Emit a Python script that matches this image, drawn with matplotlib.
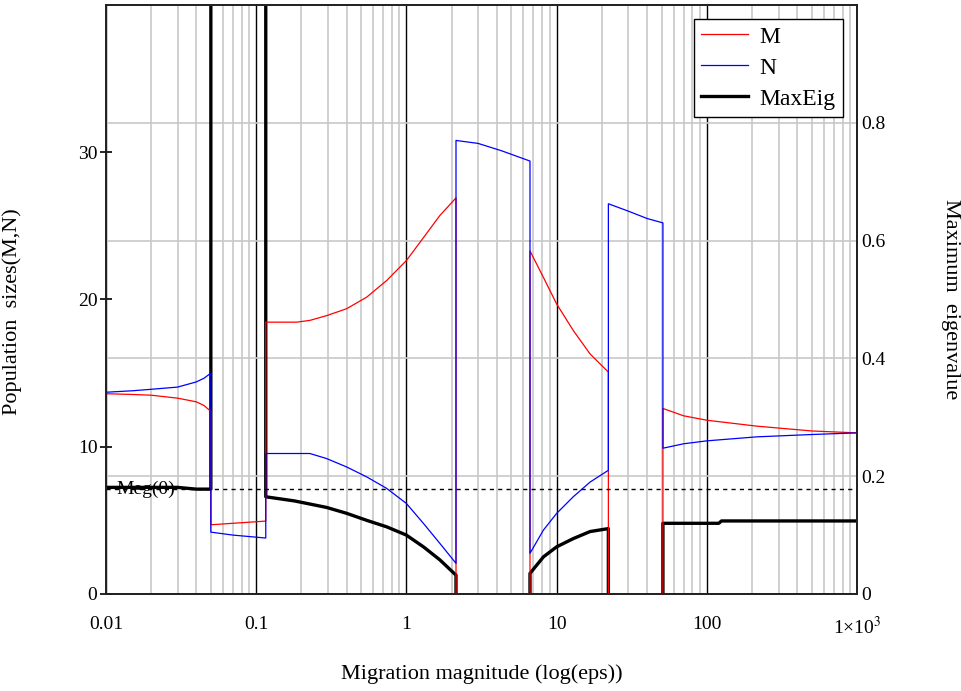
import numpy as np
import matplotlib
matplotlib.use("Agg")
import matplotlib.pyplot as plt
from matplotlib.ticker import LogLocator, NullFormatter, FixedLocator

plt.rcParams['font.family'] = ['Liberation Serif', 'DejaVu Serif']
plt.rcParams['mathtext.fontset'] = 'stix'

# values (NaN = curve not drawn, 1.5 = off the top)
eps_m = [0.01, 0.015, 0.02, 0.03, 0.04, 0.045, 0.05,
         0.05, 0.07, 0.116,
         0.116, 0.186, 0.228, 0.294, 0.40, 0.545, 0.74, 1.0, 1.30, 1.67, 2.14,
         2.14, 6.65,
         6.65, 8.17, 10, 12.9, 16.7, 22.1,
         22.1, 51,
         51, 70, 100, 214, 500, 1000]
M = [13.6, 13.55, 13.5, 13.3, 13.05, 12.8, 12.4,
     4.7, 4.8, 4.95,
     18.46, 18.46, 18.58, 18.9, 19.37, 20.16, 21.29, 22.64, 24.2, 25.7, 26.9,
     0, 0,
     23.3, 21.5, 19.7, 17.9, 16.3, 15.07,
     0, 0,
     12.6, 12.1, 11.8, 11.4, 11.07, 10.94]

eps_n = [0.01, 0.015, 0.02, 0.03, 0.04, 0.045, 0.05,
         0.05, 0.07, 0.116,
         0.116, 0.228, 0.294, 0.40, 0.545, 0.74, 1.0, 1.30, 1.67, 2.14,
         2.14, 3.0, 4.3, 6.65,
         6.65, 8.17, 10, 12.9, 16.7, 22.1,
         22.1, 30, 40, 51,
         51, 70, 100, 214, 500, 1000]
N = [13.7, 13.8, 13.9, 14.05, 14.4, 14.65, 15.0,
     4.2, 4.0, 3.8,
     9.54, 9.54, 9.2, 8.63, 7.95, 7.17, 6.15, 4.79, 3.44, 2.08,
     30.8, 30.6, 30.1, 29.4,
     2.76, 4.34, 5.47, 6.6, 7.6, 8.4,
     26.5, 26.0, 25.5, 25.2,
     9.9, 10.2, 10.4, 10.67, 10.83, 10.94]

eps_eig = [0.01, 0.03, 0.04, 0.05,
           0.05, 0.116,
           0.116, 0.18, 0.294, 0.40, 0.545, 0.74, 1.0, 1.30, 1.67, 2.14,
           2.14, 2.14, 6.65, 6.65,
           6.65, 8.17, 10, 12.9, 16.7, 22.1,
           22.1, 22.1, 51, 51,
           51, 120, 125, 1000]
max_eig = [0.181, 0.181, 0.178, 0.178,
           1.5, 1.5,
           0.165, 0.158, 0.147, 0.137, 0.125, 0.114, 0.100, 0.080, 0.058, 0.032,
           0, np.nan, np.nan, 0,
           0.035, 0.063, 0.080, 0.094, 0.106, 0.111,
           0, np.nan, np.nan, 0,
           0.12, 0.12, 0.124, 0.124]

meg0 = 7.1
x_ticks = [0.01, 0.1, 1, 10, 100, 1000]
x_labels = ['0.01', '0.1', '1', '10', '100', r'1×10$^{3}$']
left_ticks = [0, 10, 20, 30]
right_ticks = [0, 0.2, 0.4, 0.6, 0.8]
right_labels = ['0', '0.2', '0.4', '0.6', '0.8']

fig = plt.figure(figsize=(9.62, 6.91), dpi=100)
ax = fig.add_axes([0.110, 0.1404, 0.781, 0.8524])
ax2 = ax.twinx()
ax.set_zorder(ax2.get_zorder() + 1)
ax.patch.set_visible(False)

ax.set_xscale('log')
ax.set_xlim(0.01, 1000)
ax.set_ylim(0, 40)
ax2.set_ylim(0, 1)

# grid lives on the back axes
ax2.xaxis.set_visible(True)
ax2.xaxis.set_major_locator(FixedLocator(x_ticks))
ax2.xaxis.set_minor_locator(LogLocator(base=10, subs=np.arange(2, 10)))
ax2.grid(which='minor', axis='x', color='#c8c8c8', lw=1.2)
ax2.grid(which='major', axis='x', color='black', lw=1.0)
ax2.set_yticks(right_ticks)
ax2.set_yticklabels(right_labels)
ax2.grid(which='major', axis='y', color='#c8c8c8', lw=1.2)

l1, = ax.plot(eps_m, M, color='red', lw=0.9, label='M')
l2, = ax.plot(eps_n, N, color='blue', lw=0.9, label='N')
l3, = ax2.plot(eps_eig, max_eig, color='black', lw=2.4, label='MaxEig')
ax.axhline(meg0, color='black', lw=1.0, dashes=(3, 3))
ax.text(0.0118, meg0, 'Meg(0)', fontsize=14, va='center', ha='left')

ax.set_xticks(x_ticks)
ax.set_xticklabels(x_labels)
ax.xaxis.set_minor_formatter(NullFormatter())
ax.tick_params(axis='x', which='both', length=0, pad=16, labelsize=14)
ax2.tick_params(axis='x', which='both', length=0, labelbottom=False, labeltop=False)
ax.set_yticks(left_ticks)
ax.tick_params(axis='y', direction='inout', length=8, width=1.2, pad=2, labelsize=14)
ax2.tick_params(axis='y', length=0, pad=3, labelsize=14)

for a in (ax, ax2):
    for s in a.spines.values():
        s.set_color('#222222')
        s.set_linewidth(1.3)

ax.set_xlabel('Migration magnitude (log(eps))', fontsize=16)
ax.xaxis.set_label_coords(0.5, -0.12)
ax.set_ylabel('Population  sizes(M,N)', fontsize=16)
ax.yaxis.set_label_coords(-0.112, 0.48)
ax2.set_ylabel('Maximum  eigenvalue', fontsize=16, rotation=270, va='center')
ax2.yaxis.set_label_coords(1.124, 0.5)

leg = ax.legend(handles=[l1, l2, l3], loc='upper right', bbox_to_anchor=(0.981, 0.976),
                borderaxespad=0, fontsize=17, fancybox=False, framealpha=1,
                edgecolor='black', handlelength=2.0, borderpad=0.3,
                labelspacing=0.4, handletextpad=0.5)
leg.get_frame().set_linewidth(1.0)

fig.savefig('out.png', dpi=100)
